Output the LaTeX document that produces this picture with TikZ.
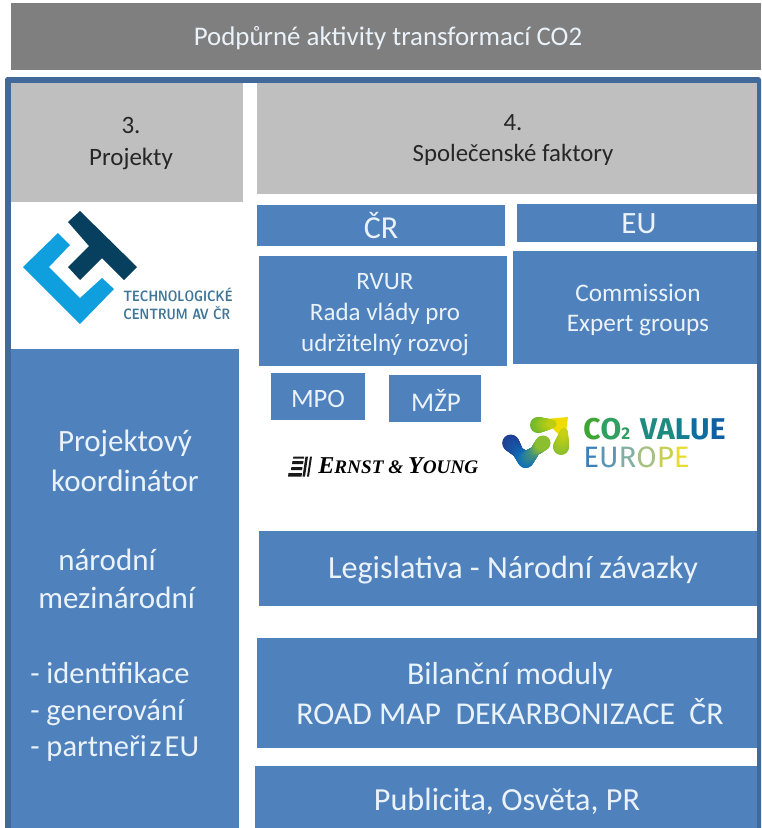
\documentclass[tikz,border=0pt]{standalone}
\usepackage{fontspec}
\setmainfont{Carlito}
\newfontfamily\eyfont{Liberation Serif}
\newfontfamily\logofont{Fira Sans}
\definecolor{hdr}{HTML}{7F7F7F}
\definecolor{pale}{HTML}{BFBFBF}
\definecolor{bar}{HTML}{4F81BD}
\definecolor{frame}{HTML}{41699A}
\definecolor{ink}{HTML}{EAF2FA}
\definecolor{ctlight}{HTML}{0F9FDE}
\definecolor{ctdark}{HTML}{07405F}
\definecolor{cttext}{HTML}{3F7596}
\definecolor{bA}{HTML}{1F3F94}
\definecolor{bB}{HTML}{0F6FB8}
\definecolor{bC}{HTML}{8BBF2F}
\definecolor{bD}{HTML}{6CB82F}
\definecolor{bE}{HTML}{F0DC00}
\newcommand{\pxfont}[2]{\fontsize{\dimexpr #1pt*3/4\relax}{\dimexpr #2pt*3/4\relax}\selectfont}
\newcommand{\colL}[2]{\textcolor[HTML]{#1}{#2}}
\tikzset{
 x=0.75pt,y=-0.75pt,
 lbl/.style={inner sep=0pt,align=center,text=ink},
 dark/.style={inner sep=0pt,align=center,text=black!85},
}
% name, x0,y0,x1,y1, colour
\newcommand{\bx}[6]{\fill[#6] (#2,#3) rectangle (#4,#5); \coordinate (#1) at ({(#2+#4)/2},{(#3+#5)/2});}
% gradient stroke: x0,y0,r0,c0, x1,y1,r1,c1
\newcommand{\seg}[8]{\foreach \tt in {0,4,...,100}{
  \colorlet{tmpc}{#8!\tt!#4}
  \fill[tmpc] ({#1+(#5-#1)*\tt/100},{#2+(#6-#2)*\tt/100}) circle[radius={(#3+(#7-#3)*\tt/100)*0.75pt}];}}
\begin{document}
\begin{tikzpicture}
\useasboundingbox (0,0) rectangle (761,828);
\fill[white] (0,0) rectangle (761,828);
% header
\bx{h}{11}{3}{761}{70}{hdr}
\node[lbl,font=\pxfont{26.9}{30}] (htxt) at (388,38) {Podpůrné aktivity transformací CO2};
% frame
\fill[frame,rounded corners=2pt] (5,77) rectangle (761,840);
\fill[white] (11,83) rectangle (757,840);
% grey headers
\bx{p3}{11}{83}{243}{202}{pale}
\bx{p4}{257}{83}{757}{194}{pale}
\node[dark,font=\pxfont{25}{32}] (p3t) at (131,144) {3.\\Projekty};
\node[dark,font=\pxfont{24.8}{31}] (p4t) at (513,140) {4.\\Společenské faktory};
% blue boxes
\bx{cr}{257}{205}{505}{246}{bar}
\bx{eu}{517}{204}{757}{242}{bar}
\bx{rv}{259}{256}{507}{366}{bar}
\bx{co}{513}{251}{757}{364}{bar}
\bx{mpo}{271}{373}{365}{420}{bar}
\bx{mzp}{389}{375}{481}{422}{bar}
\bx{le}{259}{531}{757}{606}{bar}
\bx{bi}{257}{638}{757}{748}{bar}
\bx{pu}{255}{766}{757}{828}{bar}
\bx{lc}{11}{349}{239}{828}{bar}
\node[lbl,font=\pxfont{32}{32}] (crt) at (381,226) {ČR};
\node[lbl,font=\pxfont{31}{31}] (eut) at (639,224) {EU};
\node[lbl,font=\pxfont{25}{31}] (rvt) at (385,315) {RVUR\\Rada vlády pro\\udržitelný rozvoj};
\node[lbl,font=\pxfont{25.3}{30}] (cot) at (638,310) {Commission\\Expert groups};
\node[lbl,font=\pxfont{26.5}{26}] (mpot) at (318,399) {MPO};
\node[lbl,font=\pxfont{27}{26}] (mzpt) at (436,400) {MŽP};
\node[lbl,font=\pxfont{32.2}{32}] (let) at (513,570) {Legislativa - Národní závazky};
\node[lbl,font=\pxfont{31.8}{40}] (bit) at (510,694) {Bilanční moduly\\ROAD MAP\ \ DEKARBONIZACE\ \ ČR};
\node[lbl,font=\pxfont{32.2}{32}] (put) at (507,801) {Publicita, Osvěta, PR};
% left column
\node[lbl,font=\pxfont{31}{40}] (l1) at (125,461) {Projektový\\koordinátor};
\node[lbl,font=\pxfont{31}{38},anchor=west] (l2a) at (58,560) {národní};
\node[lbl,font=\pxfont{31}{38},anchor=west] (l2b) at (38,598) {mezinárodní};
\node[lbl,font=\pxfont{30.5}{36.5},align=left,anchor=west] (l3) at (30,712) {- identifikace\\- generování\\- {\spaceskip=2.2pt\relax partneři z EU}};
% CT logo
\fill[ctlight] (58,233) -- (70,245) -- (49,267) -- (80,298) -- (102,278) -- (114,289) -- (80,324) -- (23,267) -- cycle;
\fill[ctdark] (80,211) -- (137,267) -- (124,280) -- (102,258) -- (80,280) -- (68,267) -- (89,246) -- (68,222) -- cycle;
\node[inner sep=0pt,anchor=west,text=cttext,font=\sffamily\bfseries\pxfont{15}{16}] (ctt1) at (123,295) {\scalebox{0.81}[1]{TECHNOLOGICKÉ}};
\node[inner sep=0pt,anchor=west,text=cttext,font=\sffamily\bfseries\pxfont{15}{16}] (ctt2) at (123,313) {\scalebox{0.81}[1]{CENTRUM AV ČR}};
% EY logo
\begin{scope}[black!90]
\fill (302.5,476.5) -- (305.5,456.5) -- (308,456.5) -- (305,476.5) -- cycle;
\fill (307,476.5) -- (310,456.5) -- (312,456.5) -- (309,476.5) -- cycle;
\fill (288,476.5) -- (288.5,473) -- (302,473) -- (301.5,476.5) -- cycle;
\fill (291,470) -- (291.4,467) -- (302.5,467) -- (302,470) -- cycle;
\fill (292,464) -- (292.5,461) -- (303.5,461) -- (303,464) -- cycle;
\fill (293,458.5) -- (293.4,456.5) -- (304,456.5) -- (304,458.5) -- cycle;
\end{scope}
\node[inner sep=0pt,anchor=west,text=black,font=\eyfont\bfseries\itshape\pxfont{24.2}{24}] (ey) at (318,466) {E\pxfont{19.2}{24}RNST \& \pxfont{24.2}{24}Y\pxfont{19.2}{24}OUNG};
% CO2 logo
\fill[bE] (546,419) -- (568,417) -- (565,440) -- (554,430) -- cycle;
\seg{510.7}{443}{8.5}{bA}{518}{452}{5.5}{bA!50!bB}
\seg{518}{452}{5.5}{bA!50!bB}{525.7}{460}{8}{bB}
\seg{525.7}{460}{8}{bB}{535}{451}{5}{bB!55!bC}
\seg{535}{451}{5}{bB!55!bC}{543}{443}{7.5}{bC}
\seg{538}{425}{8}{bD}{552}{424}{4.5}{bD!40!bE}
\seg{561}{447}{8}{bC}{564}{432}{4}{bC!40!bE}
\node[inner sep=0pt,anchor=west,font=\logofont\bfseries\pxfont{30}{30}] (cv) at (583,429) {\spaceskip=7.5pt\relax\colL{3FA535}{C}\colL{2FA060}{O}\colL{2FA060}{\pxfont{17}{17}2} \colL{1F8A80}{V}\colL{1F8A80}{A}\colL{167F8F}{L}\colL{0F6EA0}{U}\colL{0F5FA5}{E}};
\node[inner sep=0pt,anchor=west,font=\logofont\pxfont{29.5}{30}] (ce) at (583,457) {\colL{3D7FB8}{E}\colL{5B95B5}{U}\colL{7FAFA0}{R}\colL{A5C080}{O}\colL{C8CF50}{P}\colL{E8DC30}{E}};
\end{tikzpicture}
\end{document}
